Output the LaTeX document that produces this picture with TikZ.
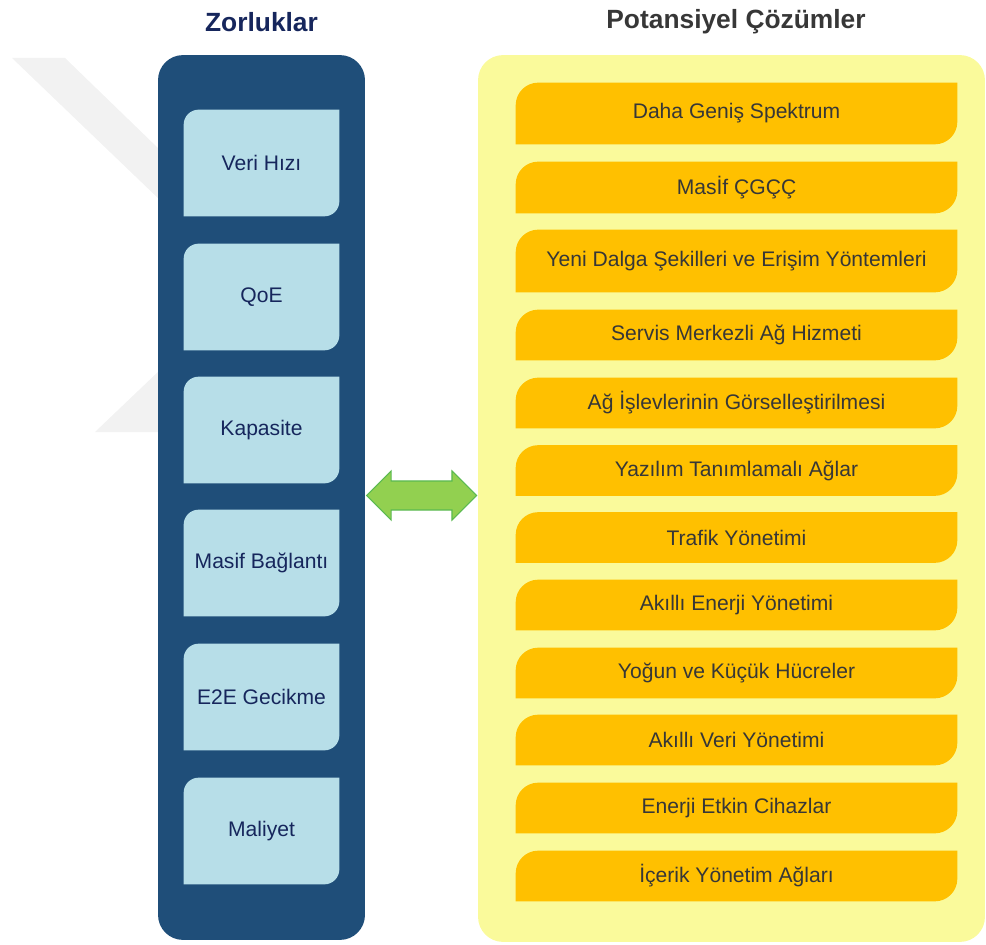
\documentclass[tikz,border=0pt]{standalone}
\usepackage{fontspec}
\setmainfont{Liberation Sans}
\usetikzlibrary{shapes.arrows,calc}

\definecolor{panelblue}{RGB}{31,78,121}
\definecolor{cellblue}{RGB}{183,222,232}
\definecolor{paleyellow}{RGB}{250,250,155}
\definecolor{amber}{RGB}{255,192,0}
\definecolor{leafgreen}{RGB}{146,208,80}
\definecolor{edgegreen}{RGB}{90,185,80}
\definecolor{navytext}{RGB}{22,38,92}
\definecolor{greytext}{RGB}{55,55,55}

\pgfdeclarelayer{back}
\pgfdeclarelayer{fills}
\pgfsetlayers{back,fills,main}

\tikzset{
  panel/.style={rounded corners=0.5cm, inner sep=0pt},
  challenge/.style={inner sep=0pt, minimum width=3.1cm, minimum height=2.12cm,
    font=\fontsize{12}{14}\selectfont, text=navytext},
  solution/.style={inner sep=0pt, minimum width=8.82cm, minimum height=1cm,
    font=\fontsize{12}{14}\selectfont, text=greytext},
  heading/.style={font=\bfseries\fontsize{15}{18}\selectfont},
  linkarrow/.style={double arrow, fill=leafgreen, draw=edgegreen, line width=0.6pt,
    inner xsep=0pt, inner ysep=0.28cm, minimum height=2.2cm, minimum width=0.96cm,
    double arrow head extend=0.2cm}
}

\begin{document}
\begin{tikzpicture}[x=0.02cm, y=-0.02cm]
% Fill behind a box: top left and bottom right corners rounded (#3 = radius in cm)
\def\leaf#1#2#3{%
  \pgfmathsetlengthmacro\bend{0.448*#3cm}
  \begin{pgfonlayer}{fills}
  \fill[#2] (#1.south west) -- ($(#1.north west)+(0cm,-#3cm)$)
    .. controls ($(#1.north west)+(0cm,-\bend)$) and ($(#1.north west)+(\bend,0cm)$)
    .. ($(#1.north west)+(#3cm,0cm)$)
    -- (#1.north east) -- ($(#1.south east)+(0cm,#3cm)$)
    .. controls ($(#1.south east)+(0cm,\bend)$) and ($(#1.south east)+(-\bend,0cm)$)
    .. ($(#1.south east)+(-#3cm,0cm)$) -- cycle;
  \end{pgfonlayer}}

\useasboundingbox (0,0) rectangle (986,945);

\begin{pgfonlayer}{back}
% Faint watermark behind the left panel
\fill[black!5] (12,58) -- (65,58) -- (160,150) -- (160,200) -- cycle;
\fill[black!5] (95,432) -- (160,370) -- (160,432) -- cycle;

% Panels
\node[panel, fill=panelblue, minimum width=4.14cm, minimum height=17.7cm] (zor) at (261.5,497.5) {};
\node[panel, fill=paleyellow, minimum width=10.14cm, minimum height=17.74cm] (pot) at (731.5,498.5) {};
\end{pgfonlayer}

% Headings
\node[heading, text=navytext] (zhead) at (261.5,22) {Zorluklar};
\node[heading, text=greytext] (phead) at (736,22) {Potansiyel Çözümler};

% Challenges
\node[challenge] (veri) at (261.5,163) {Veri Hızı};
\leaf{veri}{cellblue}{0.3}
\node[challenge] (qoe) at (261.5,297) {QoE};
\leaf{qoe}{cellblue}{0.3}
\node[challenge] (kapasite) at (261.5,430) {Kapasite};
\leaf{kapasite}{cellblue}{0.3}
\node[challenge] (baglanti) at (261.5,563) {Masif Bağlantı};
\leaf{baglanti}{cellblue}{0.3}
\node[challenge] (gecikme) at (261.5,697) {E2E Gecikme};
\leaf{gecikme}{cellblue}{0.3}
\node[challenge] (maliyet) at (261.5,831) {Maliyet};
\leaf{maliyet}{cellblue}{0.3}

% Solutions
\node[solution, minimum height=1.22cm] (spektrum) at (736.5,113.5) {Daha Geniş Spektrum};
\leaf{spektrum}{amber}{0.45}
\node[solution, minimum height=1.02cm] (cgcc) at (736.5,187.5) {Masİf ÇGÇÇ};
\leaf{cgcc}{amber}{0.45}
\node[solution, minimum height=1.24cm] (dalga) at (736.5,261) {Yeni Dalga Şekilleri ve Erişim Yöntemleri};
\leaf{dalga}{amber}{0.45}
\node[solution] (servis) at (736.5,335) {Servis Merkezli Ağ Hizmeti};
\leaf{servis}{amber}{0.45}
\node[solution] (islev) at (736.5,403) {Ağ İşlevlerinin Görselleştirilmesi};
\leaf{islev}{amber}{0.45}
\node[solution] (yazilim) at (736.5,470.5) {Yazılım Tanımlamalı Ağlar};
\leaf{yazilim}{amber}{0.45}
\node[solution] (trafik) at (736.5,537.5) {Trafik Yönetimi};
\leaf{trafik}{amber}{0.45}
\node[solution] (enerji) at (736.5,605) {Akıllı Enerji Yönetimi};
\leaf{enerji}{amber}{0.45}
\node[solution] (hucre) at (736.5,673) {Yoğun ve Küçük Hücreler};
\leaf{hucre}{amber}{0.45}
\node[solution] (veriyon) at (736.5,740) {Akıllı Veri Yönetimi};
\leaf{veriyon}{amber}{0.45}
\node[solution] (cihaz) at (736.5,808) {Enerji Etkin Cihazlar};
\leaf{cihaz}{amber}{0.45}
\node[solution] (icerik) at (736.5,876) {İçerik Yönetim Ağları};
\leaf{icerik}{amber}{0.45}

% Two-way link between the panels
\node[linkarrow] (link) at ($(zor.east)!0.5!(pot.west)+(0,-2.5)$) {};
\end{tikzpicture}
\end{document}
